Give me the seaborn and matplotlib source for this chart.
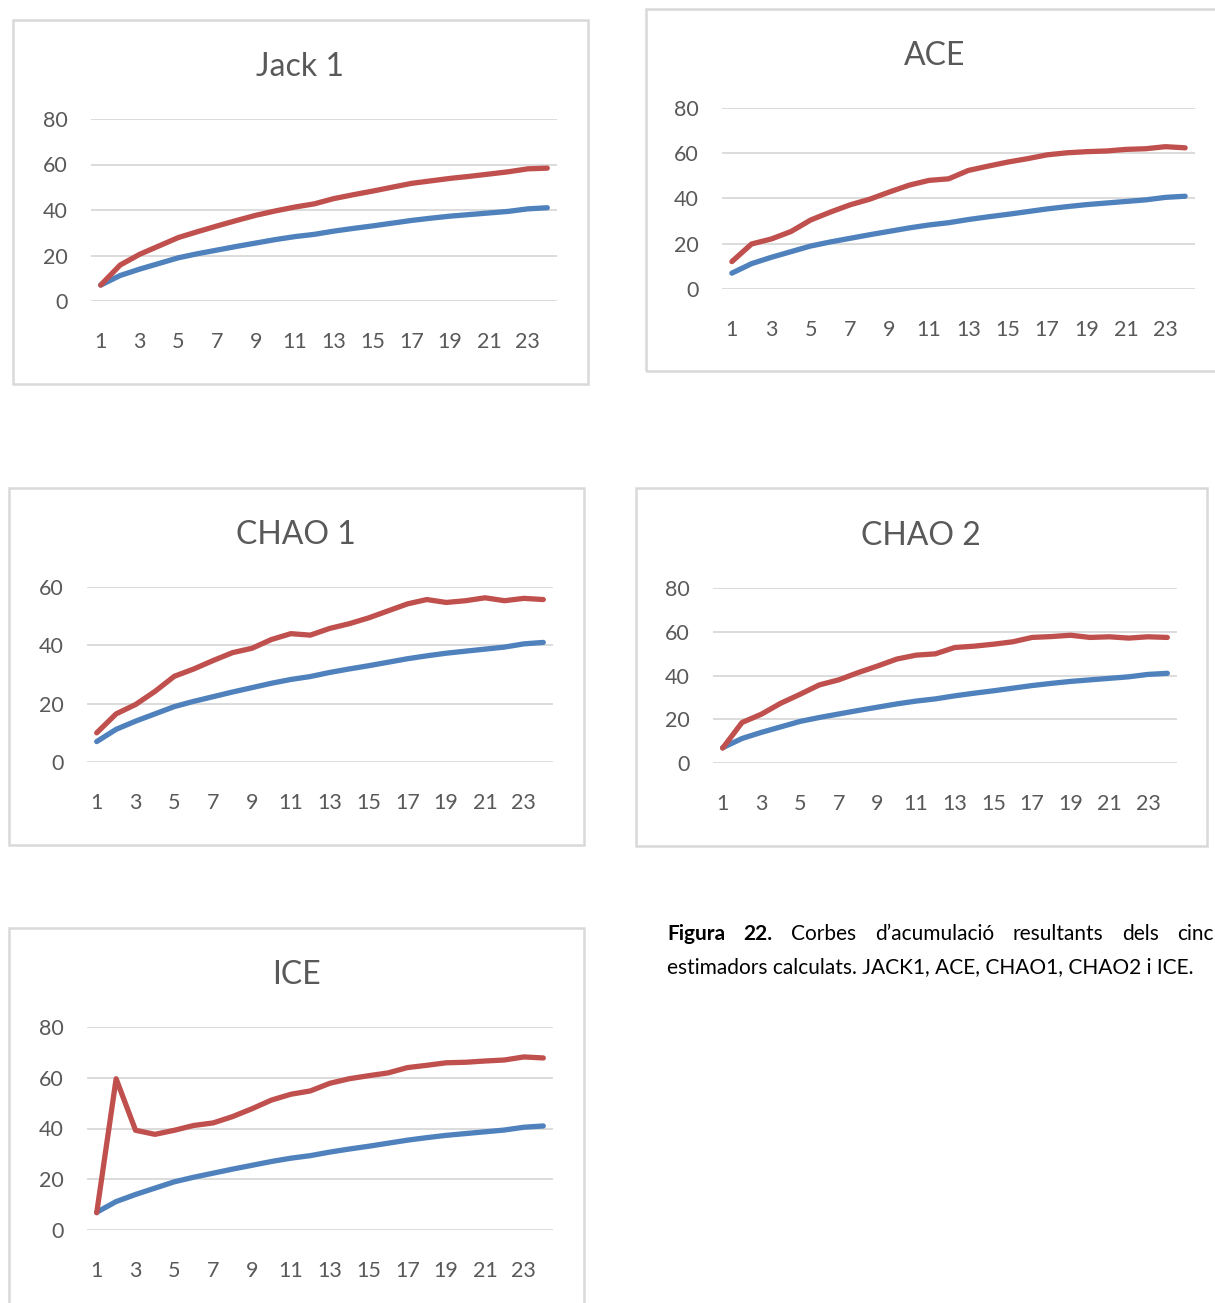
import matplotlib.pyplot as plt
import matplotlib.patches as mpatches
import seaborn as sns
import pandas as pd

# sample units (x axis)
samples = list(range(1, 25))
xticks = [1, 3, 5, 7, 9, 11, 13, 15, 17, 19, 21, 23]

# observed species (blue, same in every panel)
sobs = [7, 11.2, 14, 16.5, 19, 20.8, 22.4, 24, 25.5, 27, 28.3, 29.3,
        30.7, 31.9, 33, 34.2, 35.4, 36.4, 37.3, 38, 38.7, 39.4, 40.5, 41]

# estimators (red)
jack1 = [7, 15.8, 20.5, 24.2, 27.9, 30.5, 33, 35.4, 37.7, 39.6, 41.3, 42.7,
         45, 46.7, 48.3, 50, 51.7, 52.8, 53.9, 54.8, 55.8, 56.8, 58.1, 58.4]
ace = [12.1, 19.9, 22.1, 25.4, 30.5, 34, 37.2, 39.7, 42.9, 45.9, 48, 48.7,
       52.4, 54.3, 56.1, 57.6, 59.3, 60.2, 60.7, 61, 61.7, 62, 62.9, 62.4]
chao1 = [10, 16.5, 19.7, 24.2, 29.4, 31.9, 34.8, 37.5, 39, 42, 44, 43.5,
         45.8, 47.4, 49.4, 51.8, 54.2, 55.7, 54.7, 55.3, 56.3, 55.3, 56.1, 55.7]
chao2 = [6.8, 18.5, 22.3, 27.3, 31.4, 35.7, 38, 41.3, 44.3, 47.5, 49.3, 49.9,
         52.8, 53.4, 54.3, 55.4, 57.4, 57.8, 58.4, 57.4, 57.7, 57.1, 57.7, 57.4]
ice = [6.8, 59.6, 39.3, 37.7, 39.3, 41.2, 42.2, 44.7, 47.8, 51.2, 53.5, 54.8,
       57.8, 59.6, 60.8, 61.9, 64, 64.9, 65.9, 66.1, 66.6, 67, 68.2, 67.8]

caption_words = ["Figura", "22.", "Corbes", "d\u2019acumulació", "resultants", "dels", "cinc"]
caption_line2 = "estimadors calculats. JACK1, ACE, CHAO1, CHAO2 i ICE."

W, H = 1215, 1303
RED = '#c0504d'
BLUE = '#4f81bd'
GREY_TXT = '#595959'
GRID = '#d9d9d9'

sns.set_theme(style="white")
plt.rcParams['font.family'] = ['Lato', 'DejaVu Sans']

fig = plt.figure(figsize=(W / 100, H / 100), dpi=100)

# (title, red series, ymax, box px (x0,y0,x1,y1), axes px (x0,ytop,x1,ybottom), title x)
panels = [
    ("Jack 1", jack1, 80, (13, 20, 588, 384), (91, 119, 557, 301), 300),
    ("ACE", ace, 80, (646, 9, 1222, 371), (722, 108, 1195, 289), 935),
    ("CHAO 1", chao1, 60, (9, 488, 584, 845), (87, 587, 553, 762), 296),
    ("CHAO 2", chao2, 80, (636, 488, 1207, 846), (713, 588, 1177, 763), 921),
    ("ICE", ice, 80, (9, 928, 584, 1312), (87, 1027, 553, 1230), 296),
]

for title, est, ymax, box, area, tx in panels:
    bx0, by0, bx1, by1 = box
    fig.patches.append(mpatches.Rectangle(
        (bx0 / W, 1 - by1 / H), (bx1 - bx0) / W, (by1 - by0) / H,
        transform=fig.transFigure, fill=False, edgecolor=GRID, linewidth=1.8))

    ax0, atop, ax1, abot = area
    ax = fig.add_axes([ax0 / W, 1 - abot / H, (ax1 - ax0) / W, (abot - atop) / H])
    ax.patch.set_alpha(0)

    df = pd.DataFrame({
        'sample': samples * 2,
        'value': sobs + est,
        'series': ['obs'] * len(samples) + ['est'] * len(samples),
    })
    sns.lineplot(data=df, x='sample', y='value', hue='series',
                 palette={'obs': BLUE, 'est': RED}, ax=ax, legend=False,
                 linewidth=3.8, solid_capstyle='round', solid_joinstyle='round',
                 clip_on=False, zorder=3)

    ax.set_xlim(0.5, 24.5)
    ax.set_ylim(0, ymax)
    ax.set_yticks(range(0, ymax + 1, 20))
    ax.set_xticks(xticks)
    ax.set_xlabel('')
    ax.set_ylabel('')
    ax.grid(axis='y', color=GRID, linewidth=1.3)
    ax.set_axisbelow(True)
    for s in ax.spines.values():
        s.set_visible(False)
    ax.tick_params(axis='both', length=0, labelsize=15.5, colors=GREY_TXT)
    ax.tick_params(axis='x', pad=22.5)
    ax.tick_params(axis='y', pad=17)

    fig.text(tx / W, 1 - (atop - 52) / H, title, ha='center', va='center',
             fontsize=23, color=GREY_TXT)

# caption: first line justified between left and right margins
cap_left, cap_right = 667, 1214
cap_y1 = 1 - 934 / H
cap_y2 = 1 - 967 / H
renderer = fig.canvas.get_renderer()
texts = []
for i, w in enumerate(caption_words):
    t = fig.text(0, cap_y1, w, fontsize=15, color='black', va='center', ha='left',
                 fontweight='bold' if i < 2 else 'normal')
    texts.append(t)
widths = [t.get_window_extent(renderer).width for t in texts]
gap = (cap_right - cap_left - sum(widths)) / (len(texts) - 1)
x = cap_left
for t, wd in zip(texts, widths):
    t.set_x(x / W)
    x += wd + gap
fig.text(cap_left / W, cap_y2, caption_line2, fontsize=15, color='black',
         va='center', ha='left')

plt.savefig('out.png', dpi=100)
